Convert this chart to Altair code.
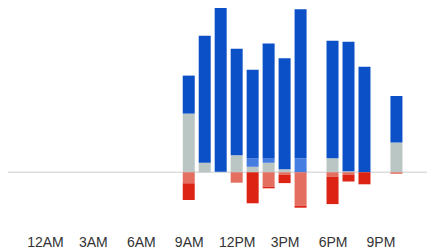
import altair as alt
import pandas as pd

# Hours of day (0 = 12AM) that have activity
hours = [9, 10, 11, 12, 13, 14, 15, 16, 18, 19, 20, 22]

# Positive stack (bottom -> top)
gray = [58.7, 9.5, 0.5, 17.0, 5.5, 9.5, 3.0, 0.0, 14.0, 1.0, 0.0, 29.8]
light_blue = [0.0, 0.0, 0.0, 0.0, 8.3, 4.4, 0.0, 14.0, 0.0, 0.0, 0.0, 0.0]
blue = [38.0, 127.0, 167.5, 106.5, 88.8, 115.0, 111.0, 149.0, 117.6, 129.6, 105.6, 46.5]

# Negative stack (top -> bottom)
light_red = [-11.0, 0.0, 0.0, -10.4, 0.0, -14.4, -2.5, -33.4, -4.5, -2.5, 0.0, -1.5]
dark_red = [-16.7, 0.0, 0.0, 0.0, -31.0, -1.6, -8.3, -2.0, -27.3, -6.7, -12.0, 0.0]

tick_values = [0, 3, 6, 9, 12, 15, 18, 21]
tick_labels = ["12AM", "3AM", "6AM", "9AM", "12PM", "3PM", "6PM", "9PM"]

series_names = ["gray", "light_blue", "blue", "light_red", "dark_red"]
series_values = [gray, light_blue, blue, light_red, dark_red]
series_colors = ["#b9c6c3", "#467de0", "#0c50c8", "#e46e5f", "#dc2314"]

rows = []
for rank, (name, vals) in enumerate(zip(series_names, series_values)):
    for h, v in zip(hours, vals):
        rows.append({"hour": h, "series": name, "value": v, "rank": rank})
df = pd.DataFrame(rows)

W = 419
H = 204

label_expr = "[" + ",".join("'%s'" % t for t in tick_labels) + "][round(datum.value/3)]"

xscale = alt.Scale(domain=[-2, 23.6], nice=False, zero=False)
yscale = alt.Scale(domain=[-39.7, 164.3], nice=False, zero=False)

rule = alt.Chart(pd.DataFrame({"y": [0]})).mark_rule(
    color="#dddddd", strokeWidth=1.5
).encode(
    y=alt.Y("y:Q", scale=yscale, axis=None),
    x=alt.value(-1),
    x2=alt.value(W + 20),
)

bars = alt.Chart(df).mark_bar(size=12, clip=False).encode(
    x=alt.X(
        "hour:Q",
        scale=xscale,
        axis=alt.Axis(
            values=tick_values,
            labelExpr=label_expr,
            ticks=False,
            domain=False,
            grid=False,
            title=None,
            labelFontSize=14,
            labelFont="Liberation Sans",
            labelColor="#333333",
            labelBaseline="alphabetic",
            labelPadding=34,
            labelFlush=False,
            labelOverlap=False,
        ),
    ),
    y=alt.Y("value:Q", scale=yscale, axis=None, stack="zero"),
    color=alt.Color(
        "series:N",
        scale=alt.Scale(domain=series_names, range=series_colors),
        legend=None,
    ),
    order=alt.Order("rank:Q", sort="ascending"),
)

chart = alt.layer(rule, bars).properties(
    width=W,
    height=H,
    autosize=alt.AutoSizeParams(type="none"),
    padding={"left": 0, "top": 0, "right": 0, "bottom": 38},
).configure_view(stroke=None)

chart.save("out.html", embed_options={"renderer": "svg", "actions": False})
